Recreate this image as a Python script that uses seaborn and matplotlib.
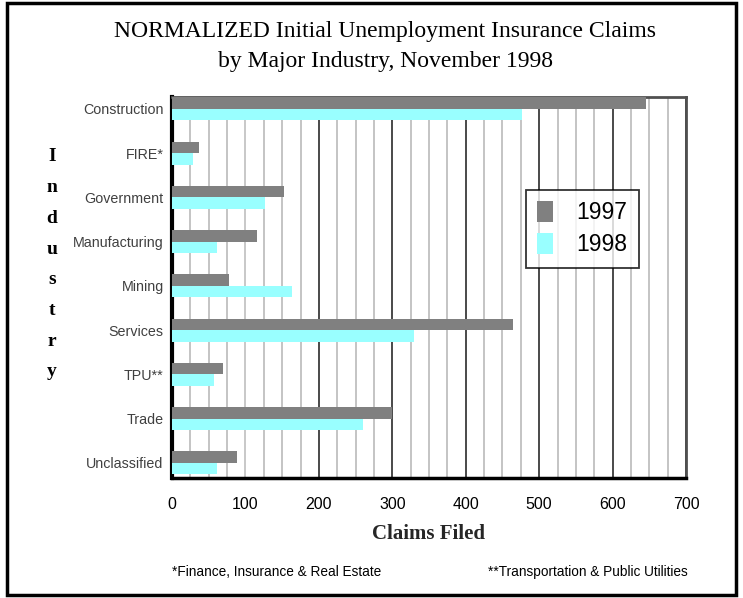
import pandas as pd
import matplotlib.pyplot as plt
import seaborn as sns
from matplotlib.patches import Rectangle

industries = ["Construction", "FIRE*", "Government", "Manufacturing", "Mining",
              "Services", "TPU**", "Trade", "Unclassified"]
claims_1997 = [645, 37, 153, 116, 78, 464, 70, 300, 89]
claims_1998 = [477, 28, 126, 61, 164, 330, 57, 260, 61]
years = ["1997", "1998"]
colors = ["#808080", "#99FFFF"]

df = pd.DataFrame({
    "industry": industries * 2,
    "claims": claims_1997 + claims_1998,
    "year": [years[0]] * len(industries) + [years[1]] * len(industries),
})

sns.set_style("white")
plt.rcParams["text.color"] = "black"
plt.rcParams["xtick.color"] = "black"
plt.rcParams["font.family"] = ["Liberation Sans", "DejaVu Sans"]

fig = plt.figure(figsize=(7.43, 5.98), dpi=100)
ax = fig.add_axes([172 / 743, 1 - 478 / 598, 514 / 743, 381 / 598])

sns.barplot(data=df, y="industry", x="claims", hue="year", palette=colors,
            orient="h", width=0.52, dodge=True, ax=ax, saturation=1,
            linewidth=0, zorder=3)

ax.set_xlim(0, 700)
ax.set_ylim(8.34, -0.27)
ax.set_xticks(range(0, 701, 100))
ax.set_xticks(range(0, 701, 25), minor=True)
ax.grid(axis="x", which="minor", color="#c4c4c4", lw=1.4, zorder=0)
ax.grid(axis="x", which="major", color="#3a3a3a", lw=1.3, zorder=1)
ax.xaxis.get_gridlines()[1].set_color("#c4c4c4")
ax.set_axisbelow(True)

ax.tick_params(axis="both", which="both", length=0)
ax.tick_params(axis="x", pad=14, labelsize=11.5, labelcolor="black")
ax.tick_params(axis="y", pad=6, labelsize=10.3, labelcolor="#404040")

for side in ["left", "bottom"]:
    ax.spines[side].set_color("black")
ax.spines["left"].set_linewidth(3)
ax.spines["bottom"].set_linewidth(2.5)
for side in ["top", "right"]:
    ax.spines[side].set_color("#505050")
    ax.spines[side].set_linewidth(2)

ax.set_xlabel("Claims Filed", family="Liberation Serif", fontsize=15,
              fontweight="bold", labelpad=8)
ax.set_ylabel("")

leg = ax.legend(loc="upper left", bbox_to_anchor=(0.688, 0.757), frameon=True,
                fancybox=False, edgecolor="black", fontsize=16.5, title=None,
                handlelength=0.7, handleheight=1.0, handletextpad=1.0,
                borderpad=0.5, labelspacing=0.4, borderaxespad=0)
leg.get_frame().set_linewidth(1.3)

fig.text(385 / 743, 1 - 32 / 598,
         "NORMALIZED Initial Unemployment Insurance Claims",
         ha="center", va="center", family="Liberation Serif", fontsize=17)
fig.text(385 / 743, 1 - 62 / 598, "by Major Industry, November 1998",
         ha="center", va="center", family="Liberation Serif", fontsize=17)

for i, ch in enumerate("Industry"):
    fig.text(52 / 743, 1 - (157 + i * 30.7) / 598, ch, ha="center", va="center",
             family="Liberation Serif", fontsize=14, fontweight="bold")

fig.text(172 / 743, 1 - 572 / 598, "*Finance, Insurance & Real Estate",
         ha="left", va="center", fontsize=9.8)
fig.text(688 / 743, 1 - 572 / 598, "**Transportation & Public Utilities",
         ha="right", va="center", fontsize=9.8)

fig.patches.append(Rectangle((7 / 743, 3 / 598), 729 / 743, 592 / 598,
                             transform=fig.transFigure, fill=False,
                             edgecolor="black", lw=2.5))

fig.savefig("out.png", dpi=100)
